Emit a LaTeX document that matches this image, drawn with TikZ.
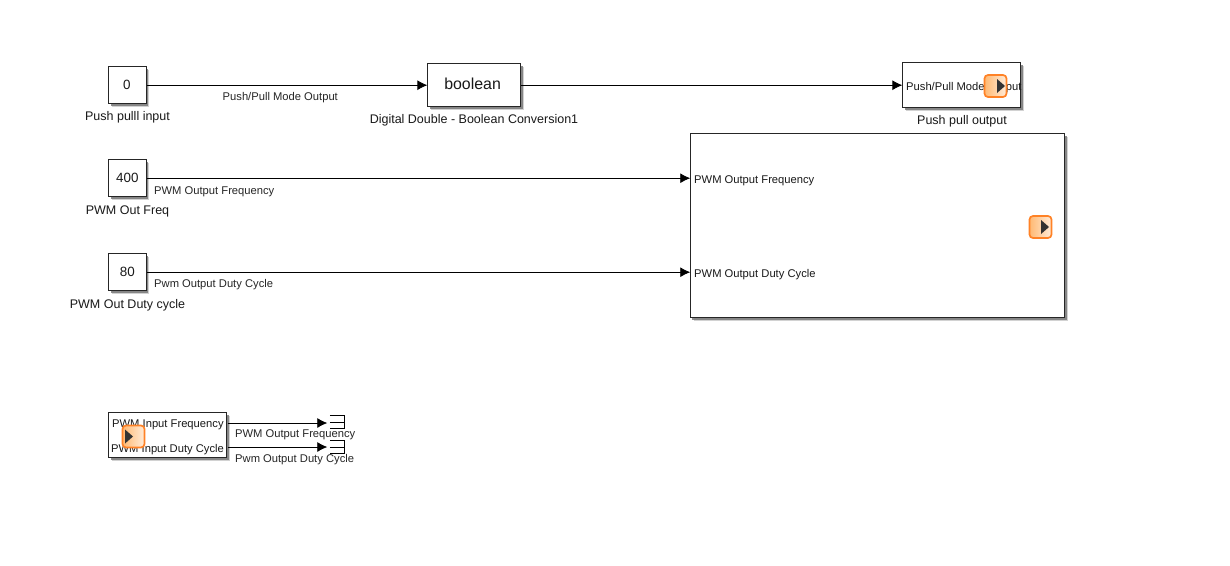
\documentclass[tikz,border=0pt]{standalone}
\usepackage{fontspec}
\setmainfont{Liberation Sans}
\usetikzlibrary{arrows.meta,shadows}
\tikzset{
  x=1pt,y=-1pt,
  blockbox/.style={draw=black!85,line width=1pt,fill=white,inner sep=0pt,
    drop shadow={shadow xshift=3.4pt,shadow yshift=-3.4pt,fill=black!25,opacity=0.7},
    drop shadow={shadow xshift=2.2pt,shadow yshift=-2.2pt,fill=black!55,opacity=0.8},
    minimum width=#1},
  blocktext/.style={font=\fontsize{13.4}{15}\selectfont,inner sep=0pt,text=black!90},
  namelabel/.style={font=\fontsize{12.5}{14}\selectfont,inner sep=0pt,text=black!90},
  siglabel/.style={font=\fontsize{11.2}{13}\selectfont,inner sep=0pt,anchor=west,text=black!85},
  portlabel/.style={font=\fontsize{11.2}{13}\selectfont,inner sep=0pt,anchor=west,text=black!90},
  wire/.style={line width=0.8pt,black,-{Latex[length=10pt,width=10pt]}},
  badge/.style={draw=orange!85!red!85,line width=1.7pt,rounded corners=3.5pt,
    left color=orange!55!white,right color=orange!15!white,
    minimum width=22pt,minimum height=22pt,inner sep=0pt},
  badgetip/.style={fill=black!80,draw=none},
  termbox/.style={inner sep=0pt,minimum width=14pt,minimum height=12pt},
  termline/.style={line width=0.8pt,black}
}
\begin{document}
\begin{tikzpicture}
\useasboundingbox (0,0) rectangle (1230,565);
\fill[white] (0,0) rectangle (1230,565);

% constant blocks
\node[blockbox=37.5pt,minimum height=37pt,blocktext] (c0) at (127.3,85.2) {\hspace{-1pt}\raisebox{1pt}{0}};
\node[blockbox=37.5pt,minimum height=37pt,blocktext] (c400) at (127.3,178.2) {400};
\node[blockbox=37.5pt,minimum height=37pt,blocktext] (c80) at (127.3,272.2) {80};
\node[namelabel] (n0) at (127.5,117.5) {Push pulll input};
\node[namelabel] (n400) at (127.5,211.5) {PWM Out Freq};
\node[namelabel] (n80) at (127.5,305.5) {PWM Out Duty cycle};

% conversion
\node[blockbox=93.5pt,minimum height=43pt,font=\fontsize{15.9}{17}\selectfont,text=black!90] (bool) at (474.1,85.2) {\hspace{-3pt}\raisebox{3pt}{boolean}};
\node[namelabel] (nbool) at (474,120.5) {Digital Double - Boolean Conversion1};

% push pull output
\node[blockbox=118.5pt,minimum height=45pt] (pp) at (961.6,85.2) {};
\node[portlabel] (pptext) at (906,88) {Push/Pull Mode Output};
\node[namelabel] (npp) at (962,121.5) {Push pull output};

% big subsystem
\node[blockbox=374.5pt,minimum height=183.5pt] (big) at (877.5,225.7) {};
\node[portlabel] (bigf) at (694,181) {PWM Output Frequency};
\node[portlabel] (bigd) at (694,275) {PWM Output Duty Cycle};

% bottom subsystem
\node[blockbox=118.5pt,minimum height=45pt] (sub) at (167.6,435.2) {};
\node[portlabel] (subf) at (112,425) {PWM Input Frequency};
\node[portlabel] (subd) at (111,450) {PWM Input Duty Cycle};
\coordinate (subo1) at (227.5,423);
\coordinate (subo2) at (227.5,447);

% terminators
\node[termbox] (t1) at (337,422) {};
\node[termbox] (t2) at (337,447) {};
\draw[termline] (t1.north west) -- (t1.north east) -- (t1.south east) -- (t1.south west);
\draw[termline] (t2.north west) -- (t2.north east) -- (t2.south east) -- (t2.south west);
\draw[termline] (t1.west) -- (t1.east);
\draw[termline] (t2.west) -- (t2.east);

% connectors
\draw[wire,shorten >=-0.5pt] (c0.east) -- (bool.west);
\draw[wire,shorten >=-0.5pt] (bool.east) -- (bool.east -| pp.west);
\draw[wire,shorten >=-0.5pt] (c400.east) -- (c400.east -| big.west);
\draw[wire,shorten >=-0.5pt] (c80.east) -- (c80.east -| big.west);
\draw[wire,shorten >=2.5pt] (subo1) -- (subo1 -| t1.west);
\draw[wire,shorten >=2.5pt] (subo2) -- (subo2 -| t2.west);

% signal labels
\node[siglabel] (s1) at (222.5,98) {Push/Pull Mode Output};
\node[siglabel] (s2) at (154,192) {PWM Output Frequency};
\node[siglabel] (s3) at (154,284.5) {Pwm Output Duty Cycle};
\node[siglabel] (s4) at (235,434.5) {PWM Output Frequency};
\node[siglabel] (s5) at (235,460) {Pwm Output Duty Cycle};

% badges
\node[badge] (b1) at (995.5,86) {};
\node[badge] (b2) at (1040.5,227) {};
\node[badge] (b3) at (133.5,436.5) {};
\fill[badgetip] (997,79) -- (1005,86) -- (997,93) -- cycle;
\fill[badgetip] (1041,220) -- (1049,227) -- (1041,234) -- cycle;
\fill[badgetip] (125,429.5) -- (133,436.5) -- (125,443.5) -- cycle;
\end{tikzpicture}
\end{document}
